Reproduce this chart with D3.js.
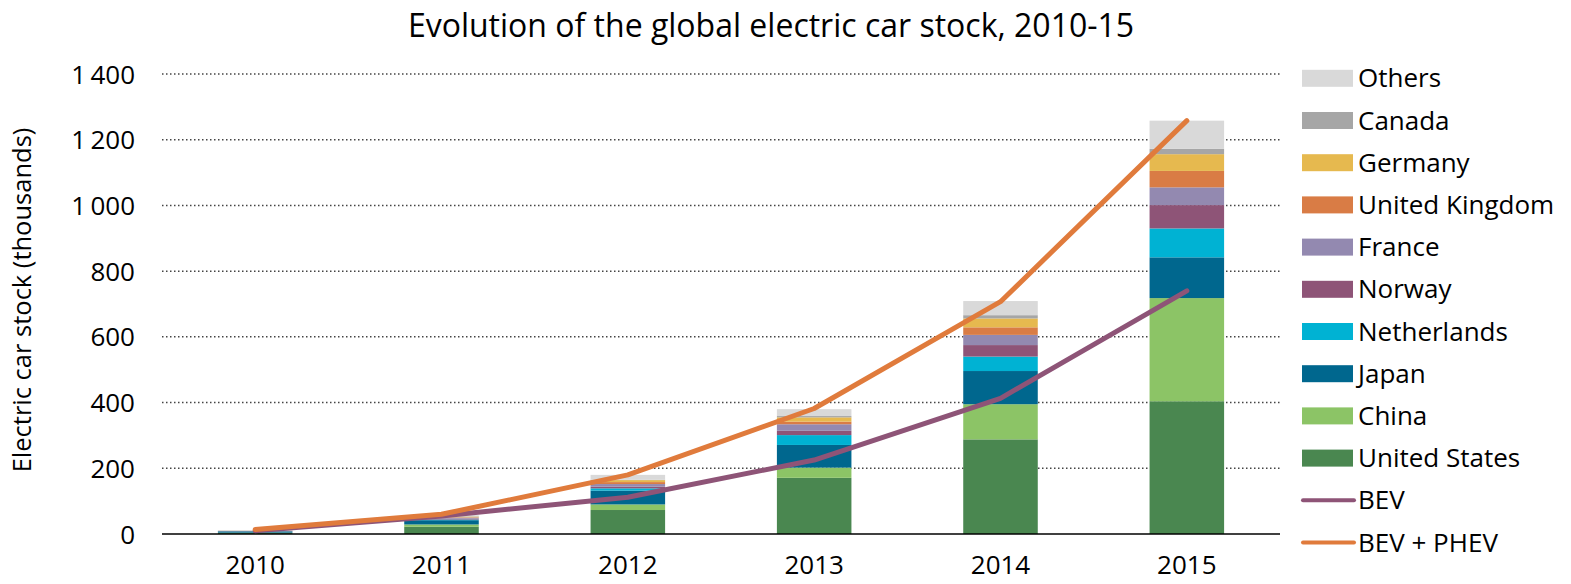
<!DOCTYPE html>
<html>
<head>
<meta charset="utf-8">
<script src="https://cdn.jsdelivr.net/npm/d3@7"></script>
<style>
  body { margin: 0; background: #fff; }
  svg text { font-family: "Open Sans", "Liberation Sans", sans-serif; fill: #000; }
</style>
</head>
<body>
<svg id="chart" width="1571" height="584"></svg>
<script>
const years = ["2010", "2011", "2012", "2013", "2014", "2015"];

// stack order, bottom to top
const countries = ["United States", "China", "Japan", "Netherlands", "Norway",
                   "France", "United Kingdom", "Germany", "Canada", "Others"];

const unitedStates = [3, 22, 73, 171, 288, 404];
const china        = [1, 7, 17, 31, 107, 314];
const japan        = [4, 13, 42, 69, 101, 124];
const netherlands  = [0.3, 2, 7, 30, 44, 88];
const norway       = [0.5, 3, 5, 13, 35, 71];
const france       = [0.3, 3, 8, 20, 31, 54];
const unitedKingdom = [0.5, 1, 6, 8, 23, 50];
const germany      = [0.3, 2, 6, 13, 27, 51];
const canada       = [0.2, 1, 1, 4, 10, 16];
const others       = [2, 3, 15, 21, 43, 86];

const bev     = [10, 55, 112, 225, 413, 740];
const bevPhev = [14, 60, 180, 382, 707, 1258];

const yTicks = [0, 200, 400, 600, 800, 1000, 1200, 1400];

const countryColors = ["#4a8750", "#8cc466", "#00678e", "#00b2d3", "#8e5477",
                       "#9389b0", "#d97c45", "#e6b94f", "#a6a6a6", "#d9d9d9"];
const bevColor = "#8e5477";
const bevPhevColor = "#e07b3c";

const seriesValues = [unitedStates, china, japan, netherlands, norway,
                      france, unitedKingdom, germany, canada, others];

// rows for the stack
const rows = years.map((y, i) => {
    const r = { year: y };
    countries.forEach((c, k) => r[c] = seriesValues[k][i]);
    return r;
});

const svg = d3.select("#chart");

const x = d3.scaleBand()
    .domain(years)
    .range([162, 1280])
    .paddingInner(0.6)
    .paddingOuter(0.3);

const y = d3.scaleLinear()
    .domain([0, 1400])
    .range([534, 74]);

// title
svg.append("text")
    .attr("x", 771)
    .attr("y", 37)
    .attr("text-anchor", "middle")
    .style("font-size", "32px")
    .text("Evolution of the global electric car stock, 2010-15");

// gridlines
svg.append("g")
    .selectAll("line")
    .data(yTicks.filter(d => d > 0))
    .join("line")
    .attr("x1", 162)
    .attr("x2", 1280)
    .attr("y1", d => y(d))
    .attr("y2", d => y(d))
    .attr("stroke", "#444")
    .attr("stroke-width", 1.5)
    .attr("stroke-dasharray", "1.5,2.5");

// y axis labels
const yAxis = svg.append("g")
    .attr("transform", "translate(162,0)")
    .call(d3.axisLeft(y).tickValues(yTicks).tickSize(0).tickPadding(27)
        .tickFormat(d => d3.format(",")(d).replace(",", "\u2009")));
yAxis.select(".domain").remove();
yAxis.selectAll("text")
    .style("font-size", "26px")
    .attr("dy", "0.35em");

// stacked bars
const stack = d3.stack().keys(countries)(rows);

svg.append("g")
    .selectAll("g")
    .data(stack)
    .join("g")
    .attr("fill", (d, i) => countryColors[i])
    .selectAll("rect")
    .data(d => d)
    .join("rect")
    .attr("x", d => x(d.data.year))
    .attr("y", d => y(d[1]))
    .attr("height", d => y(d[0]) - y(d[1]))
    .attr("width", x.bandwidth());

// baseline
svg.append("line")
    .attr("x1", 162).attr("x2", 1280)
    .attr("y1", y(0)).attr("y2", y(0))
    .attr("stroke", "#000")
    .attr("stroke-width", 1.5);

// lines
const line = d3.line()
    .x((d, i) => x(years[i]) + x.bandwidth() / 2)
    .y(d => y(d));

[[bev, bevColor], [bevPhev, bevPhevColor]].forEach(([vals, col]) => {
    svg.append("path")
        .datum(vals)
        .attr("d", line)
        .attr("fill", "none")
        .attr("stroke", col)
        .attr("stroke-width", 5)
        .attr("stroke-linecap", "round")
        .attr("stroke-linejoin", "round");
});

// x axis labels (kept just inside the bottom edge)
const xAxis = svg.append("g")
    .attr("transform", `translate(0,${y(0)})`)
    .call(d3.axisBottom(x).tickSize(0).tickPadding(22));
xAxis.select(".domain").remove();
xAxis.selectAll("text").style("font-size", "26px");

// y axis title
svg.append("text")
    .attr("transform", "translate(31,300) rotate(-90)")
    .attr("text-anchor", "middle")
    .style("font-size", "25.5px")
    .text("Electric car stock (thousands)");

// legend
const legendItems = countries.slice().reverse().map((c, i) => ({
    name: c, color: countryColors[countries.length - 1 - i], type: "rect"
})).concat([
    { name: "BEV", color: bevColor, type: "line" },
    { name: "BEV + PHEV", color: bevPhevColor, type: "line" }
]);

const legend = svg.append("g")
    .selectAll("g")
    .data(legendItems)
    .join("g")
    .attr("transform", (d, i) => `translate(1302,${78.3 + i * 42.2})`);

legend.filter(d => d.type === "rect")
    .append("rect")
    .attr("x", 0).attr("y", -8.5)
    .attr("width", 51).attr("height", 17)
    .attr("fill", d => d.color);

legend.filter(d => d.type === "line")
    .append("line")
    .attr("x1", 1).attr("x2", 52)
    .attr("stroke", d => d.color)
    .attr("stroke-width", 4)
    .attr("stroke-linecap", "round");

legend.append("text")
    .attr("x", 56)
    .attr("dy", "0.35em")
    .style("font-size", "26px")
    .text(d => d.name);
</script>
</body>
</html>
